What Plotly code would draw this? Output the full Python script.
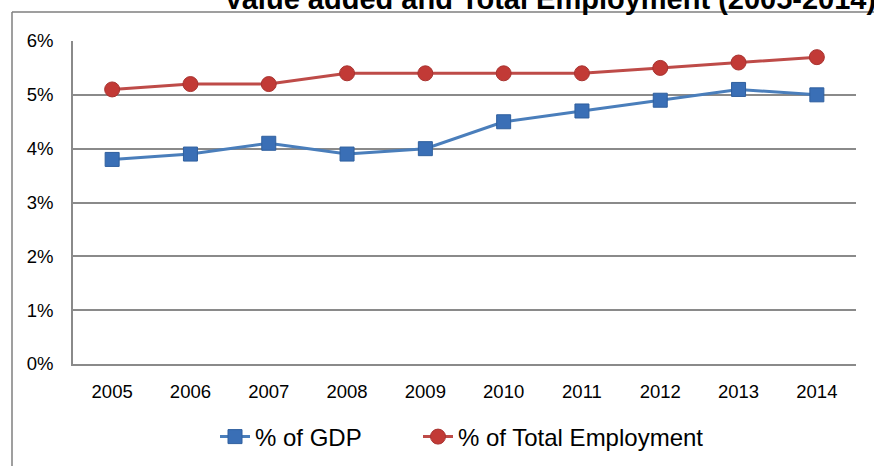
import plotly.graph_objects as go

years = ["2005", "2006", "2007", "2008", "2009", "2010", "2011", "2012", "2013", "2014"]
gdp_share = [3.8, 3.9, 4.1, 3.9, 4.0, 4.5, 4.7, 4.9, 5.1, 5.0]
employment_share = [5.1, 5.2, 5.2, 5.4, 5.4, 5.4, 5.4, 5.5, 5.6, 5.7]
y_ticks = [0, 1, 2, 3, 4, 5, 6]
y_tick_labels = ["0%", "1%", "2%", "3%", "4%", "5%", "6%"]
title_text = "Value added and Total Employment (2005-2014)"

W, H = 874, 466
L, R, T, B = 73, 18, 41, 102
pw, ph = W - L - R, H - T - B

def px_x(p):
    return (p - L) / pw

def px_y(p):
    return (H - B - p) / ph

fig = go.Figure()
fig.add_trace(go.Scatter(
    x=years, y=gdp_share, name="% of GDP", mode="lines+markers",
    line=dict(color="#4a7ebb", width=3),
    marker=dict(symbol="square", size=14, color="#3a6fb6",
                line=dict(color="#2f5f9e", width=1)),
    legend="legend",
))
fig.add_trace(go.Scatter(
    x=years, y=employment_share, name="% of Total Employment", mode="lines+markers",
    line=dict(color="#be4b48", width=3),
    marker=dict(symbol="circle", size=15, color="#c23a36",
                line=dict(color="#a83330", width=1)),
    legend="legend2",
))

font_family = "Liberation Sans, Arial, sans-serif"
legend_common = dict(orientation="h", xanchor="left", y=px_y(437), yanchor="middle",
                     font=dict(size=24, family=font_family), bgcolor="rgba(0,0,0,0)")
fig.update_layout(
    width=W, height=H,
    margin=dict(l=L, r=R, t=T, b=B, autoexpand=False),
    paper_bgcolor="white", plot_bgcolor="white",
    font=dict(family=font_family, color="black", size=18.5),
    showlegend=True,
    legend=dict(x=px_x(215), **legend_common),
    legend2=dict(x=px_x(418), **legend_common),
    xaxis=dict(type="category", showgrid=False, showline=True, linecolor="#8a8a8a",
               linewidth=1.5, ticks="", tickfont=dict(size=18.5), ticklabelstandoff=10,
               range=[-0.5, len(years) - 0.5], fixedrange=True),
    yaxis=dict(range=[0, 6], tickvals=y_ticks, ticktext=y_tick_labels, showgrid=True,
               gridcolor="#8a8a8a", gridwidth=1.5, showline=True, linecolor="#8a8a8a",
               linewidth=1.5, ticks="", tickfont=dict(size=18.5), ticklabelstandoff=14,
               zeroline=False, fixedrange=True),
)

fig.add_annotation(text="<b>" + title_text + "</b>", xref="paper", yref="paper",
                   x=px_x(222), y=px_y(17), xanchor="left", yanchor="bottom",
                   showarrow=False, font=dict(size=29, family=font_family, color="black"))

border = dict(color="#7f7f7f", width=1.5)
fig.add_shape(type="line", xref="paper", yref="paper",
              x0=px_x(12), x1=px_x(12), y0=px_y(12), y1=px_y(480), line=border)
fig.add_shape(type="line", xref="paper", yref="paper",
              x0=px_x(12), x1=px_x(890), y0=px_y(12), y1=px_y(12), line=border)

fig.write_html("out.html", config={"displayModeBar": False},
               post_script="document.body.style.margin='0';document.body.style.overflow='hidden';")
